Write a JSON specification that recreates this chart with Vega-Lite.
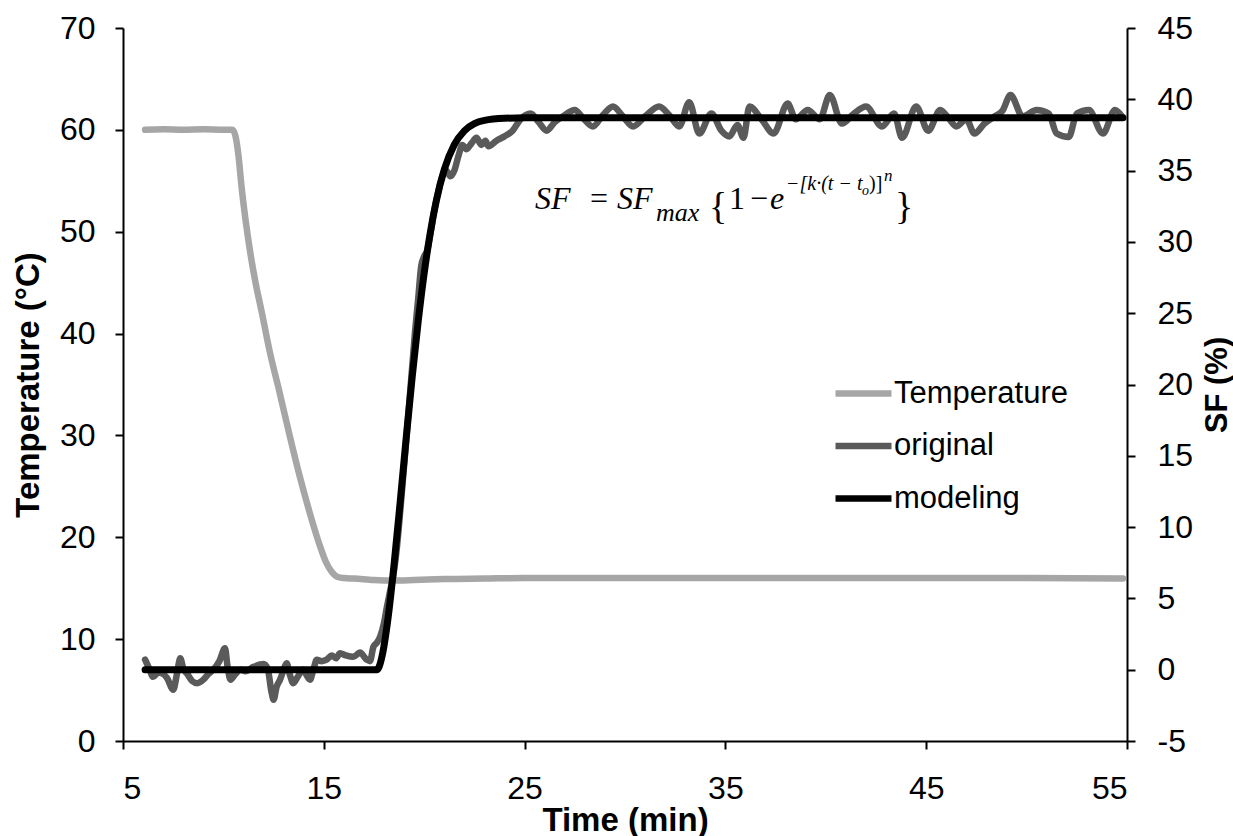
{
  "$schema": "https://vega.github.io/schema/vega-lite/v6.json",
  "width": 1004,
  "height": 713,
  "autosize": {"type": "none"},
  "padding": {"left": 123, "top": 28, "right": 106, "bottom": 95},
  "background": "white",
  "config": {
    "view": {"stroke": null},
    "axis": {
      "grid": false,
      "domainColor": "#000000",
      "domainWidth": 2,
      "tickColor": "#000000",
      "tickWidth": 2,
      "tickSize": 8,
      "labelFont": "Liberation Sans",
      "labelFontSize": 32,
      "labelColor": "#000000",
      "titleFont": "Liberation Sans",
      "titleFontSize": 31,
      "titleFontWeight": "bold",
      "titleColor": "#000000"
    },
    "text": {"font": "Liberation Serif", "color": "#000000", "align": "left", "baseline": "alphabetic"}
  },
  "datasets": {
    "temp": [
      {"t": 6.1, "T": 60.0}, {"t": 7, "T": 60.05}, {"t": 8, "T": 60.0}, {"t": 9, "T": 60.05},
      {"t": 10, "T": 60.0}, {"t": 10.45, "T": 60.0}, {"t": 10.6, "T": 59.4}, {"t": 10.75, "T": 57.5},
      {"t": 10.9, "T": 54.5}, {"t": 11.1, "T": 51.2}, {"t": 11.35, "T": 47.8}, {"t": 11.6, "T": 45.0},
      {"t": 11.9, "T": 42.2}, {"t": 12.3, "T": 38.3}, {"t": 12.8, "T": 34.2}, {"t": 13.3, "T": 30.0},
      {"t": 13.8, "T": 26.0}, {"t": 14.3, "T": 22.4}, {"t": 14.8, "T": 19.2}, {"t": 15.1, "T": 17.6},
      {"t": 15.4, "T": 16.6}, {"t": 15.7, "T": 16.1}, {"t": 16.0, "T": 16.0}, {"t": 16.5, "T": 15.95},
      {"t": 17.5, "T": 15.8}, {"t": 18.5, "T": 15.75}, {"t": 19.5, "T": 15.8}, {"t": 21, "T": 15.9},
      {"t": 23, "T": 15.95}, {"t": 25, "T": 16.0}, {"t": 30, "T": 16.0}, {"t": 35, "T": 16.0},
      {"t": 40, "T": 16.0}, {"t": 45, "T": 16.0}, {"t": 50, "T": 16.0}, {"t": 54.8, "T": 15.95}
    ],
    "orig": [
      {"t": 6.1, "SF": 0.7}, {"t": 6.3, "SF": 0.1}, {"t": 6.5, "SF": -0.5}, {"t": 6.75, "SF": -0.2},
      {"t": 7.0, "SF": -0.3}, {"t": 7.2, "SF": -0.6}, {"t": 7.5, "SF": -1.4}, {"t": 7.7, "SF": -0.2},
      {"t": 7.85, "SF": 0.8}, {"t": 8.0, "SF": 0.1}, {"t": 8.2, "SF": -0.3}, {"t": 8.45, "SF": -0.8},
      {"t": 8.7, "SF": -0.95}, {"t": 9.0, "SF": -0.7}, {"t": 9.25, "SF": -0.3}, {"t": 9.5, "SF": 0.0},
      {"t": 9.8, "SF": 0.6}, {"t": 10.08, "SF": 1.5}, {"t": 10.2, "SF": 0.3}, {"t": 10.35, "SF": -0.7},
      {"t": 10.6, "SF": -0.3}, {"t": 10.85, "SF": 0.0}, {"t": 11.1, "SF": -0.1}, {"t": 11.5, "SF": 0.2},
      {"t": 12.0, "SF": 0.4}, {"t": 12.2, "SF": 0.1}, {"t": 12.4, "SF": -1.6}, {"t": 12.5, "SF": -2.1},
      {"t": 12.65, "SF": -1.2}, {"t": 12.82, "SF": -0.7}, {"t": 13.0, "SF": 0.0}, {"t": 13.15, "SF": 0.45},
      {"t": 13.3, "SF": -0.3}, {"t": 13.48, "SF": -0.95}, {"t": 13.7, "SF": -0.5}, {"t": 13.98, "SF": 0.0},
      {"t": 14.15, "SF": -0.4}, {"t": 14.31, "SF": -0.7}, {"t": 14.5, "SF": 0.1}, {"t": 14.65, "SF": 0.7},
      {"t": 14.9, "SF": 0.6}, {"t": 15.14, "SF": 0.7}, {"t": 15.4, "SF": 1.0}, {"t": 15.6, "SF": 0.8},
      {"t": 15.81, "SF": 1.15}, {"t": 16.1, "SF": 1.0}, {"t": 16.47, "SF": 0.9}, {"t": 16.8, "SF": 1.2},
      {"t": 17.14, "SF": 0.7}, {"t": 17.3, "SF": 0.6}, {"t": 17.47, "SF": 1.6}, {"t": 17.65, "SF": 1.9},
      {"t": 17.8, "SF": 2.3}, {"t": 18.0, "SF": 3.3}, {"t": 18.13, "SF": 4.3}, {"t": 18.3, "SF": 5.5},
      {"t": 18.46, "SF": 6.6}, {"t": 18.65, "SF": 8.7}, {"t": 18.8, "SF": 11.0}, {"t": 18.95, "SF": 13.5},
      {"t": 19.1, "SF": 16.0}, {"t": 19.25, "SF": 18.6}, {"t": 19.4, "SF": 21.2}, {"t": 19.55, "SF": 23.8},
      {"t": 19.7, "SF": 26.0}, {"t": 19.85, "SF": 28.3}, {"t": 20.0, "SF": 29.0}, {"t": 20.15, "SF": 29.4},
      {"t": 20.3, "SF": 30.5}, {"t": 20.5, "SF": 32.2}, {"t": 20.7, "SF": 33.5}, {"t": 20.9, "SF": 34.6},
      {"t": 21.1, "SF": 35.0}, {"t": 21.3, "SF": 34.6}, {"t": 21.5, "SF": 35.0}, {"t": 21.7, "SF": 36.0},
      {"t": 21.9, "SF": 36.8}, {"t": 22.1, "SF": 36.5}, {"t": 22.35, "SF": 36.9}, {"t": 22.6, "SF": 37.3},
      {"t": 22.85, "SF": 36.8}, {"t": 23.05, "SF": 37.1}, {"t": 23.2, "SF": 36.7}, {"t": 23.6, "SF": 37.1},
      {"t": 24.0, "SF": 37.4}, {"t": 24.4, "SF": 37.8}, {"t": 24.8, "SF": 38.6}, {"t": 25.3, "SF": 39.0},
      {"t": 25.7, "SF": 38.4}, {"t": 26.1, "SF": 37.8}, {"t": 26.5, "SF": 38.4}, {"t": 26.9, "SF": 38.8},
      {"t": 27.5, "SF": 39.25}, {"t": 27.9, "SF": 38.7}, {"t": 28.4, "SF": 38.1}, {"t": 28.9, "SF": 38.9},
      {"t": 29.4, "SF": 39.5}, {"t": 29.9, "SF": 38.8}, {"t": 30.4, "SF": 38.1}, {"t": 31.0, "SF": 38.8},
      {"t": 31.7, "SF": 39.5}, {"t": 32.2, "SF": 38.9}, {"t": 32.7, "SF": 38.1}, {"t": 33.2, "SF": 39.8},
      {"t": 33.7, "SF": 37.6}, {"t": 34.3, "SF": 39.0}, {"t": 34.8, "SF": 37.8}, {"t": 35.2, "SF": 37.4},
      {"t": 35.6, "SF": 38.2}, {"t": 35.9, "SF": 37.3}, {"t": 36.2, "SF": 39.5}, {"t": 36.8, "SF": 38.6},
      {"t": 37.4, "SF": 37.6}, {"t": 38.1, "SF": 39.7}, {"t": 38.5, "SF": 38.6}, {"t": 39.1, "SF": 39.25},
      {"t": 39.7, "SF": 38.6}, {"t": 40.2, "SF": 40.3}, {"t": 40.8, "SF": 38.3}, {"t": 41.4, "SF": 39.0},
      {"t": 42.0, "SF": 39.5}, {"t": 42.8, "SF": 38.1}, {"t": 43.4, "SF": 39.0}, {"t": 43.8, "SF": 37.3},
      {"t": 44.5, "SF": 39.5}, {"t": 45.1, "SF": 37.8}, {"t": 45.7, "SF": 39.25}, {"t": 46.1, "SF": 38.7},
      {"t": 46.5, "SF": 38.1}, {"t": 47.0, "SF": 38.6}, {"t": 47.4, "SF": 37.6}, {"t": 47.9, "SF": 38.3},
      {"t": 48.4, "SF": 38.8}, {"t": 48.8, "SF": 39.2}, {"t": 49.2, "SF": 40.3}, {"t": 49.8, "SF": 38.8},
      {"t": 50.5, "SF": 39.25}, {"t": 51.1, "SF": 39.0}, {"t": 51.5, "SF": 37.6}, {"t": 52.1, "SF": 37.35},
      {"t": 52.5, "SF": 39.0}, {"t": 53.1, "SF": 39.25}, {"t": 53.8, "SF": 37.6}, {"t": 54.4, "SF": 39.25},
      {"t": 54.75, "SF": 38.8}
    ],
    "model": [
      {"t": 6.1, "SF": 0}, {"t": 17.65, "SF": 0}, {"t": 17.75, "SF": 0.19}, {"t": 17.9, "SF": 0.94},
      {"t": 18.2, "SF": 3.63}, {"t": 18.5, "SF": 7.39}, {"t": 18.8, "SF": 11.71}, {"t": 19.1, "SF": 16.2},
      {"t": 19.4, "SF": 20.5}, {"t": 19.7, "SF": 24.41}, {"t": 20.0, "SF": 27.81}, {"t": 20.3, "SF": 30.62},
      {"t": 20.6, "SF": 32.86}, {"t": 21.0, "SF": 35.07}, {"t": 21.5, "SF": 36.82}, {"t": 22.0, "SF": 37.79},
      {"t": 22.5, "SF": 38.29}, {"t": 23.0, "SF": 38.52}, {"t": 24.0, "SF": 38.67}, {"t": 25.0, "SF": 38.7},
      {"t": 54.8, "SF": 38.7}
    ]
  },
  "layer": [
    {
      "data": {"name": "temp"},
      "mark": {"type": "line", "strokeWidth": 6.5, "strokeCap": "round", "strokeJoin": "round", "interpolate": "monotone"},
      "encoding": {
        "x": {
          "field": "t",
          "type": "quantitative",
          "scale": {"domain": [5, 55], "nice": false, "zero": false},
          "axis": {
            "values": [5, 15, 25, 35, 45, 55],
            "title": "Time (min)",
            "labelPadding": 24,
            "titleFontSize": 33,
            "titleY": 89,
            "titleBaseline": "alphabetic"
          }
        },
        "y": {
          "field": "T",
          "type": "quantitative",
          "scale": {"domain": [0, 70], "nice": false},
          "axis": {
            "orient": "left",
            "values": [0, 10, 20, 30, 40, 50, 60, 70],
            "labelPadding": 20,
            "title": "Temperature (°C)",
            "titleFontSize": 33,
            "titleAngle": -90,
            "titleX": -85,
            "titleY": 356.5,
            "titleAlign": "center",
            "titleBaseline": "alphabetic"
          }
        },
        "color": {
          "datum": "Temperature",
          "type": "nominal",
          "scale": {"domain": ["Temperature", "original", "modeling"], "range": ["#a6a6a6", "#5a5a5a", "#000000"]},
          "legend": {
            "orient": "none",
            "legendX": 709,
            "legendY": 334,
            "title": null,
            "padding": 0,
            "symbolType": "stroke",
            "symbolSize": 3136,
            "symbolStrokeWidth": 6.5,
            "labelFont": "Liberation Sans",
            "labelFontSize": 31,
            "labelColor": "#000000",
            "labelLimit": 400,
            "labelOffset": -1,
            "rowPadding": 5.5
          }
        }
      }
    },
    {
      "encoding": {
        "x": {
          "type": "quantitative",
          "scale": {"domain": [5, 55], "nice": false, "zero": false},
          "axis": {
            "values": [5, 15, 25, 35, 45, 55],
            "title": "Time (min)",
            "labelPadding": 24,
            "titleFontSize": 33,
            "titleY": 89,
            "titleBaseline": "alphabetic"
          }
        },
        "y": {
          "type": "quantitative",
          "scale": {"domain": [-5, 45], "nice": false},
          "axis": {
            "orient": "right",
            "values": [-5, 0, 5, 10, 15, 20, 25, 30, 35, 40, 45],
            "labelExpr": "'' + datum.value",
            "labelPadding": 22,
            "title": "SF (%)",
            "titleAngle": 270,
            "titleX": 99,
            "titleY": 356.5,
            "titleAlign": "center",
            "titleBaseline": "alphabetic"
          }
        }
      },
      "layer": [
        {
          "data": {"name": "orig"},
          "mark": {"type": "line", "strokeWidth": 6.5, "strokeCap": "round", "strokeJoin": "round", "interpolate": "monotone"},
          "encoding": {
            "x": {"field": "t"},
            "y": {"field": "SF"},
            "color": {"datum": "original", "type": "nominal"}
          }
        },
        {
          "data": {"name": "model"},
          "mark": {"type": "line", "strokeWidth": 7, "strokeCap": "round", "strokeJoin": "round", "interpolate": "monotone"},
          "encoding": {
            "x": {"field": "t"},
            "y": {"field": "SF"},
            "color": {"datum": "modeling", "type": "nominal"}
          }
        },
        {
          "data": {"values": [{}]},
          "mark": {"type": "text", "fontStyle": "italic", "fontSize": 32},
          "encoding": {"x": {"datum": 25.52}, "y": {"datum": 32.31}, "text": {"value": "SF"}}
        },
        {
          "data": {"values": [{}]},
          "mark": {"type": "text", "fontSize": 32},
          "encoding": {"x": {"datum": 28.26}, "y": {"datum": 32.31}, "text": {"value": "="}}
        },
        {
          "data": {"values": [{}]},
          "mark": {"type": "text", "fontStyle": "italic", "fontSize": 32},
          "encoding": {"x": {"datum": 29.6}, "y": {"datum": 32.31}, "text": {"value": "SF"}}
        },
        {
          "data": {"values": [{}]},
          "mark": {"type": "text", "fontStyle": "italic", "fontSize": 26},
          "encoding": {"x": {"datum": 31.54}, "y": {"datum": 31.47}, "text": {"value": "max"}}
        },
        {
          "data": {"values": [{}]},
          "mark": {"type": "text", "fontSize": 38},
          "encoding": {"x": {"datum": 34.18}, "y": {"datum": 31.61}, "text": {"value": "{"}}
        },
        {
          "data": {"values": [{}]},
          "mark": {"type": "text", "fontSize": 32},
          "encoding": {"x": {"datum": 35.18}, "y": {"datum": 32.31}, "text": {"value": "1"}}
        },
        {
          "data": {"values": [{}]},
          "mark": {"type": "text", "fontSize": 32},
          "encoding": {"x": {"datum": 36.22}, "y": {"datum": 32.31}, "text": {"value": "−"}}
        },
        {
          "data": {"values": [{}]},
          "mark": {"type": "text", "fontStyle": "italic", "fontSize": 32},
          "encoding": {"x": {"datum": 37.22}, "y": {"datum": 32.31}, "text": {"value": "e"}}
        },
        {
          "data": {"values": [{}]},
          "mark": {"type": "text", "fontStyle": "italic", "fontSize": 20},
          "encoding": {"x": {"datum": 38.02}, "y": {"datum": 33.64}, "text": {"value": "−[k·(t − t"}}
        },
        {
          "data": {"values": [{}]},
          "mark": {"type": "text", "fontStyle": "italic", "fontSize": 14},
          "encoding": {"x": {"datum": 41.8}, "y": {"datum": 33.29}, "text": {"value": "o"}}
        },
        {
          "data": {"values": [{}]},
          "mark": {"type": "text", "fontSize": 20},
          "encoding": {"x": {"datum": 42.15}, "y": {"datum": 33.64}, "text": {"value": ")]"}}
        },
        {
          "data": {"values": [{}]},
          "mark": {"type": "text", "fontStyle": "italic", "fontSize": 17},
          "encoding": {"x": {"datum": 42.9}, "y": {"datum": 34.27}, "text": {"value": "n"}}
        },
        {
          "data": {"values": [{}]},
          "mark": {"type": "text", "fontSize": 38},
          "encoding": {"x": {"datum": 43.45}, "y": {"datum": 31.61}, "text": {"value": "}"}}
        }
      ]
    }
  ],
  "resolve": {"scale": {"y": "independent"}}
}
